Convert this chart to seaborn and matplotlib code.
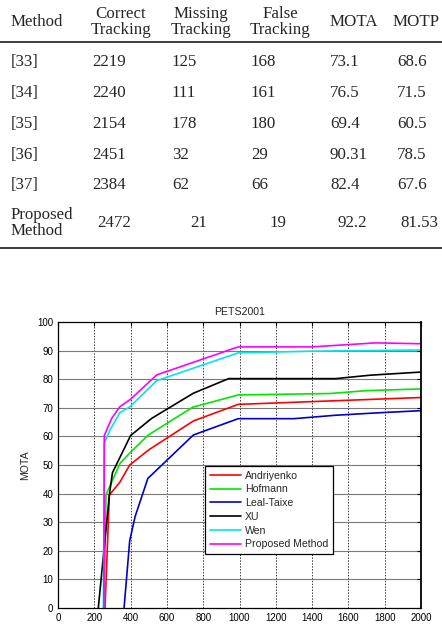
import numpy as np
import pandas as pd
import matplotlib
matplotlib.use("Agg")
import matplotlib.pyplot as plt
import seaborn as sns

# ----------------------------------------------------------
# TABLE DATA
# ----------------------------------------------------------
methods = ["[33]", "[34]", "[35]", "[36]", "[37]", "Proposed\nMethod"]
correct_tracking = ["2219", "2240", "2154", "2451", "2384", "2472"]
missing_tracking = ["125", "111", "178", "32", "62", "21"]
false_tracking = ["168", "161", "180", "29", "66", "19"]
mota_vals = ["73.1", "76.5", "69.4", "90.31", "82.4", "92.2"]
motp_vals = ["68.6", "71.5", "60.5", "78.5", "67.6", "81.53"]
headers = ["Method", "Correct\nTracking", "Missing\nTracking", "False\nTracking", "MOTA", "MOTP"]

# ----------------------------------------------------------
# CURVE DATA
# ----------------------------------------------------------
andriyenko_x = [259, 283, 341, 395, 500, 746, 993, 1500, 1750, 2000]
andriyenko_y = [0, 39.5, 44, 50, 55.3, 65.4, 71.2, 72.4, 73.0, 73.6]

hofmann_x = [255, 264, 341, 400, 498, 742, 993, 1500, 1700, 2000]
hofmann_y = [0, 39.5, 50.5, 54.5, 60.5, 70.2, 74.5, 75.0, 76.0, 76.6]

leal_x = [364, 395, 425, 495, 746, 993, 1300, 1530, 1750, 2000]
leal_y = [0, 23.5, 32, 45.3, 60.5, 66.2, 66.2, 67.4, 68.2, 69.0]

xu_x = [222, 283, 300, 400, 516, 746, 940, 1530, 1720, 2000]
xu_y = [0, 39.5, 47.3, 60.3, 66.3, 75.1, 80.2, 80.2, 81.4, 82.5]

wen_x = [250, 255, 286, 341, 397, 544, 993, 1400, 2000]
wen_y = [0, 57.6, 62.2, 68.3, 70.4, 79.5, 89.2, 89.8, 90.2]

proposed_x = [253, 255, 296, 341, 400, 544, 993, 1400, 1600, 1750, 2000]
proposed_y = [0, 60.3, 66.3, 70.4, 73.0, 81.5, 91.3, 91.3, 92.1, 92.7, 92.4]

series = {
    "Andriyenko": (andriyenko_x, andriyenko_y),
    "Hofmann": (hofmann_x, hofmann_y),
    "Leal-Taixe": (leal_x, leal_y),
    "XU": (xu_x, xu_y),
    "Wen": (wen_x, wen_y),
    "Proposed Method": (proposed_x, proposed_y),
}
palette = {
    "Andriyenko": "#FF0000",
    "Hofmann": "#00E600",
    "Leal-Taixe": "#0000CC",
    "XU": "#000000",
    "Wen": "#00E5EE",
    "Proposed Method": "#FF00FF",
}

df = pd.concat(
    [pd.DataFrame({"frame": x, "MOTA": y, "method": name}) for name, (x, y) in series.items()],
    ignore_index=True,
)

# ----------------------------------------------------------
# FIGURE
# ----------------------------------------------------------
sns.set_style("white")
plt.rcParams["font.family"] = ["Liberation Sans", "DejaVu Sans"]

W, H = 442, 626
fig = plt.figure(figsize=(W / 100, H / 100), dpi=100)

# --- table (pixel coordinates) ---
tax = fig.add_axes([0, 1 - 260 / H, 1, 260 / H])
tax.set_xlim(0, W)
tax.set_ylim(260, 0)
tax.axis("off")

serif = ["Liberation Serif", "DejaVu Serif"]
fs_tab = 12.2
header_x = [11, 121, 201, 280, 354, 416]
for i, h in enumerate(headers):
    if i == 0:
        tax.text(header_x[i], 22, h, ha="left", va="center", family=serif, fontsize=fs_tab)
    else:
        tax.text(header_x[i], 22, h, ha="center", va="center", family=serif,
                 fontsize=fs_tab, linespacing=1.05)

tax.plot([0, W], [42, 42], color="#1a1a1a", lw=1.2, solid_capstyle="butt")
tax.plot([0, W], [248, 248], color="#1a1a1a", lw=1.2, solid_capstyle="butt")

row_y = [62, 93, 124, 155, 185, 222.5]
col_left = [11, 92, 172, 251, 330, 397]
col_center_last = [114, 199, 278, 352, 419]
columns = [correct_tracking, missing_tracking, false_tracking, mota_vals, motp_vals]
for r, yv in enumerate(row_y):
    last = r == len(row_y) - 1
    tax.text(col_left[0], yv, methods[r], ha="left", va="center", family=serif,
             fontsize=fs_tab, linespacing=1.0)
    for c, col in enumerate(columns):
        if last:
            tax.text(col_center_last[c], yv, col[r], ha="center", va="center",
                     family=serif, fontsize=fs_tab)
        else:
            tax.text(col_left[c + 1], yv, col[r], ha="left", va="center",
                     family=serif, fontsize=fs_tab)

# --- line chart ---
ax = fig.add_axes([58 / W, 18 / H, 363 / W, 286 / H])
sns.lineplot(data=df, x="frame", y="MOTA", hue="method", palette=palette,
             sort=False, estimator=None, linewidth=1.2, legend=False, ax=ax)

ax.set_xlim(0, 2000)
ax.set_ylim(0, 100)
ax.set_xticks(np.arange(0, 2001, 200))
ax.set_yticks(np.arange(0, 101, 10))
ax.set_xlabel("")
ax.set_ylabel("MOTA", fontsize=7.6, labelpad=5)
ax.set_title("PETS2001", fontsize=7.6, pad=5)

for xv in np.arange(200, 2000, 200):
    ax.axvline(xv, color="#3a3a3a", lw=0.7, ls=(0, (1.5, 1.5)), zorder=0)
for yv in np.arange(10, 100, 10):
    ax.axhline(yv, color="#7a7a7a", lw=0.8, zorder=0)

ax.tick_params(direction="in", length=3, width=0.8, labelsize=7, pad=3.4,
               top=True, right=True, colors="black")
for s in ax.spines.values():
    s.set_color("black")
    s.set_linewidth(0.9)
ax.spines["right"].set_linewidth(1.3)

handles = [plt.Line2D([0], [0], color=palette[n], lw=1.2) for n in series]
leg = ax.legend(handles, list(series.keys()), loc="upper left",
                bbox_to_anchor=((205 - 58) / 363, (608 - 466) / 286),
                borderaxespad=0, fontsize=7.6, frameon=True, fancybox=False,
                handlelength=3.0, handletextpad=0.35, labelspacing=0.35,
                borderpad=0.45)
leg.get_frame().set_edgecolor("black")
leg.get_frame().set_linewidth(0.9)
leg.get_frame().set_alpha(1)

fig.savefig("out.png", dpi=100)
